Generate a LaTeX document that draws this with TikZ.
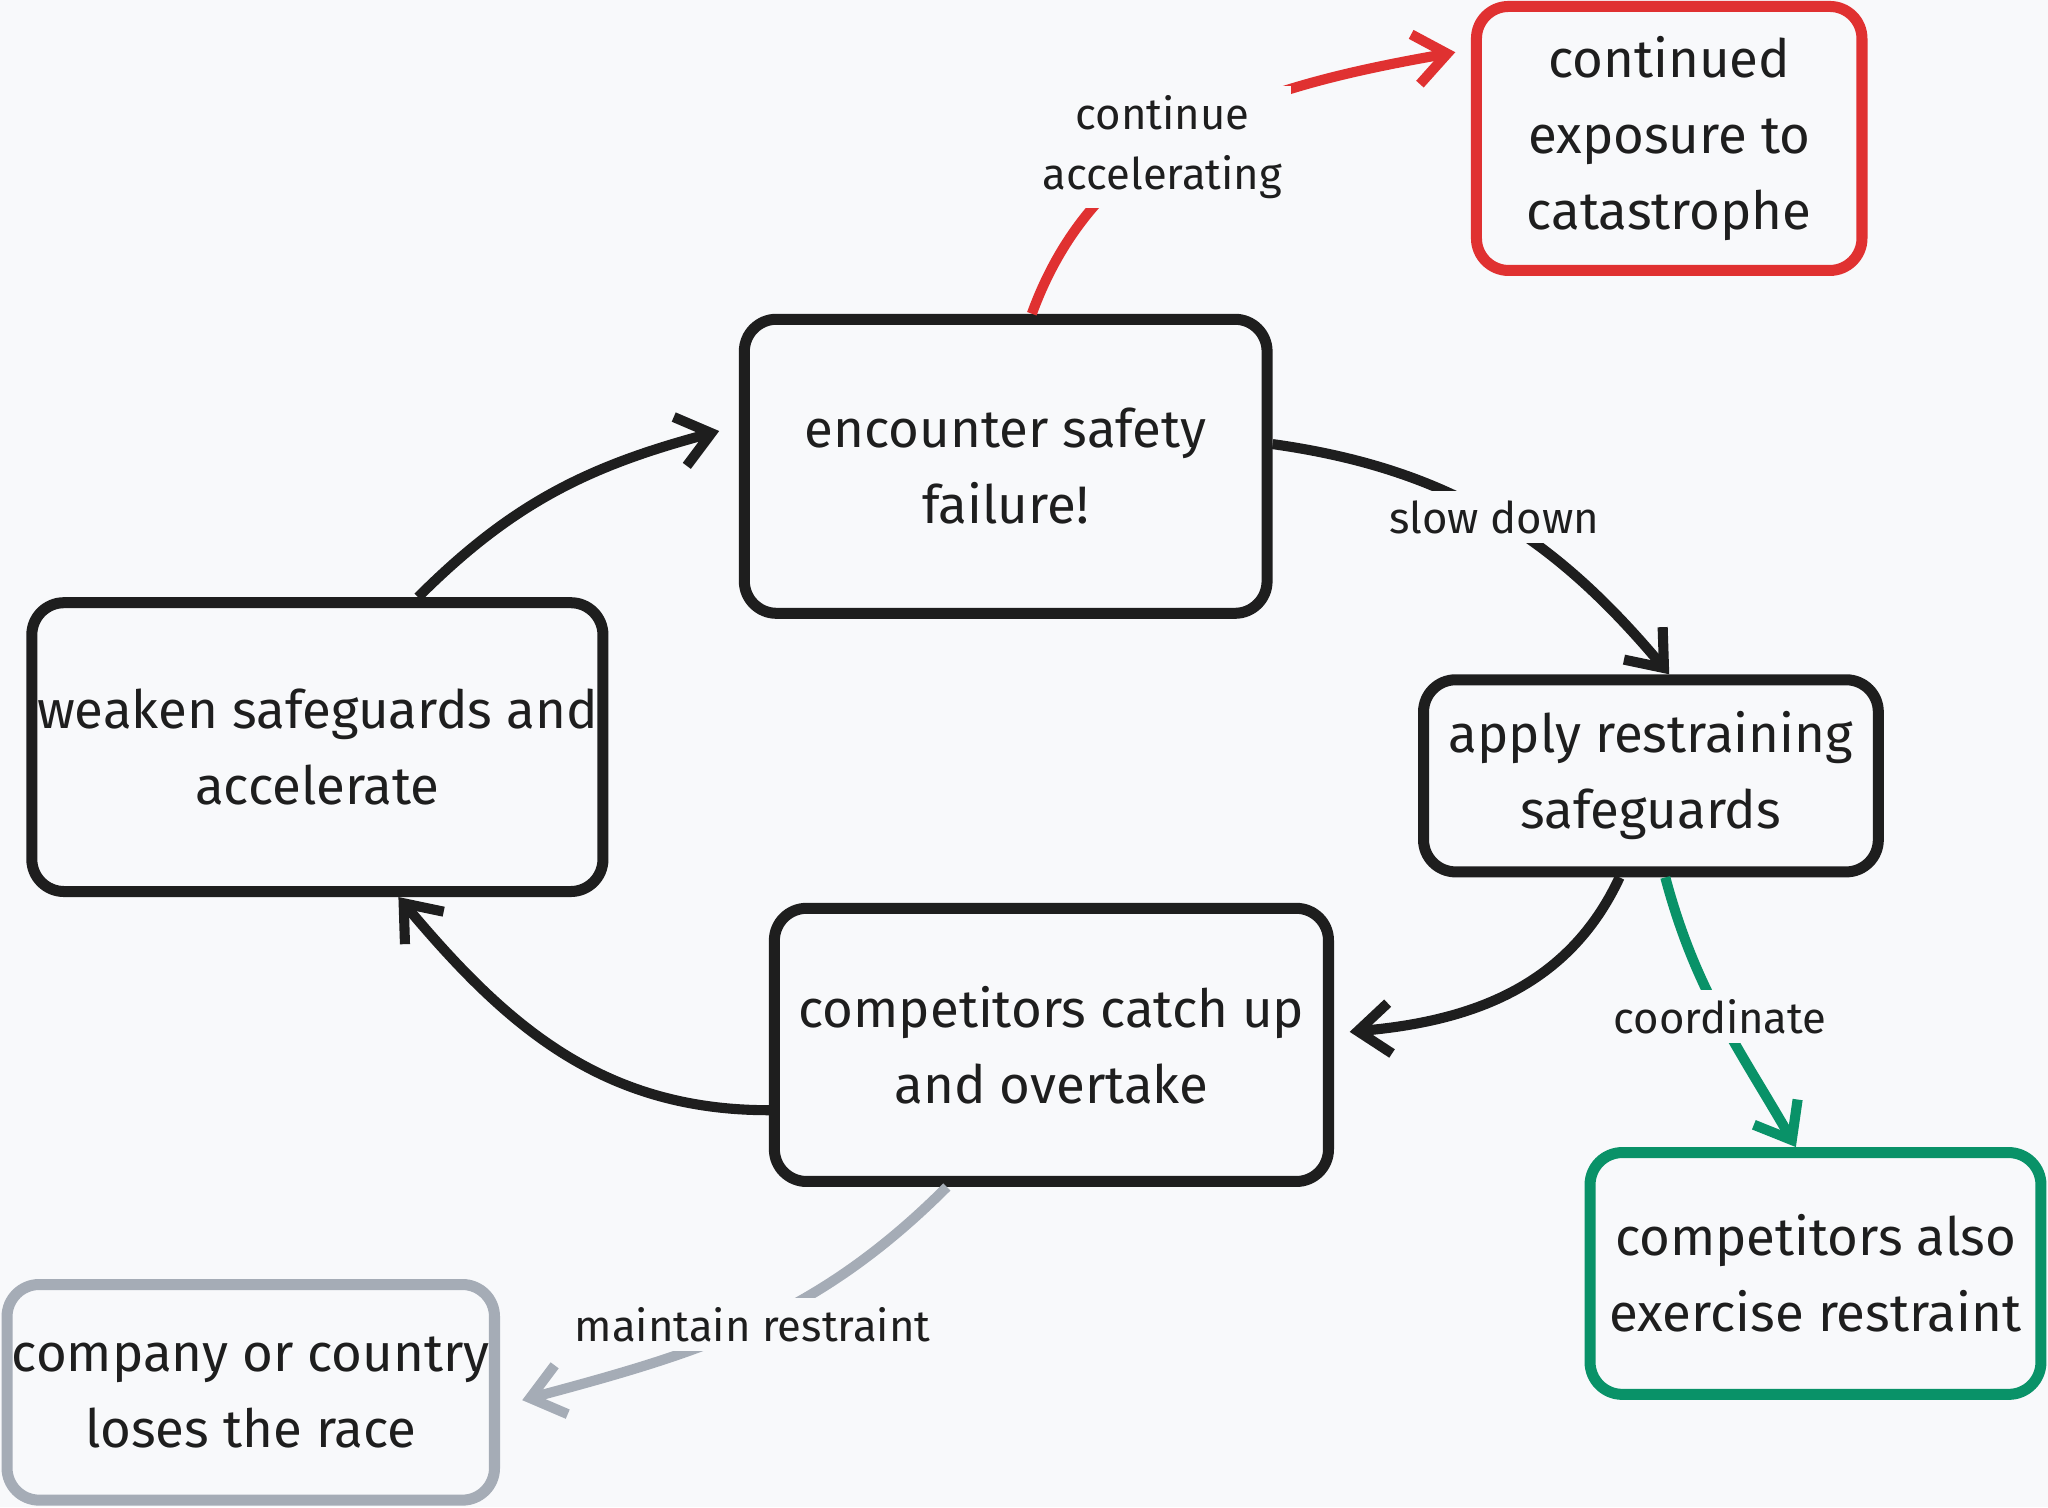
\documentclass[tikz,border=0pt]{standalone}
\usepackage{fontspec}
\setmainfont{Fira Sans}
\usepackage{tikz}
\usetikzlibrary{positioning}
\usetikzlibrary{arrows.meta}
\definecolor{bgcol}{HTML}{F8F9FB}
\definecolor{inkcol}{HTML}{1E1E1E}
\definecolor{redcol}{HTML}{E03131}
\definecolor{greencol}{HTML}{099268}
\definecolor{graycol}{HTML}{A5ACB6}
\tikzset{
  box/.style={draw=inkcol, line width=2.4pt, rounded corners=7pt, align=center,
    font=\fontsize{11.5}{16.5}\selectfont, text=inkcol, inner sep=0pt},
  link/.style={line width=2.2pt, draw=inkcol, -{Straight Barb[length=7pt,width=11pt,line width=2.2pt]}},
  tag/.style={fill=bgcol, font=\fontsize{9.5}{13}\selectfont, text=inkcol, align=center, inner sep=2pt}
}
\begin{document}
\begin{tikzpicture}[x=0.01cm, y=-0.01cm]
 % canvas
 \fill[bgcol] (0,0) rectangle (1568,1154);
 \useasboundingbox (0,0) rectangle (1568,1154);

 % boxes
 \node[box, minimum width=4cm, minimum height=2.25cm] (encounter) at (770,357) {encounter safety\\failure!};
 \node[box, draw=redcol, minimum width=2.95cm, minimum height=2.02cm] (exposure) at (1278,106) {continued\\exposure to\\catastrophe};
 \node[box, minimum width=3.48cm, minimum height=1.47cm] (apply) at (1264,594) {apply restraining\\safeguards};
 \node[box, draw=greencol, minimum width=3.45cm, minimum height=1.85cm] (also) at (1390,975) {competitors also\\exercise restraint};
 \node[box, minimum width=4.24cm, minimum height=2.09cm] (catchup) at (805,800) {competitors catch up\\and overtake};
 \node[box, minimum width=4.37cm, minimum height=2.21cm] (weaken) at (243,572) {weaken safeguards and\\accelerate};
 \node[box, draw=graycol, minimum width=3.73cm, minimum height=1.65cm] (loses) at (192,1066) {company or country\\loses the race};

 % connectors
 \draw[link, draw=redcol] ([xshift=0.2cm]encounter.north) to[out=70, in=190] node[pos=0.42, tag] {continue\\accelerating} ([xshift=-0.12cm]exposure.west |- 0,40);
 \draw[link] (encounter.east |- 0,340) to[out=-8, in=130] node[pos=0.5, tag] {slow down} ([xshift=0.14cm]apply.north);
 \draw[link] ([xshift=-0.24cm]apply.south) to[out=-115, in=5] ([xshift=0.12cm]catchup.east |- 0,790);
 \draw[link, draw=greencol] ([xshift=0.11cm]apply.south) to[out=-75, in=120] node[pos=0.5, tag] {coordinate} ([xshift=-0.15cm]also.north);
 \draw[link] (catchup.west |- 0,850) to[out=180, in=-50] ([xshift=0.62cm]weaken.south);
 \draw[link] ([xshift=0.77cm]weaken.north) to[out=45, in=195] ([xshift=-0.15cm]encounter.west |- 0,330);
 \draw[link, draw=graycol] ([xshift=-0.8cm]catchup.south) to[out=-135, in=15] node[pos=0.5, tag] {maintain restraint} ([xshift=0.17cm]loses.east |- 0,1072);
\end{tikzpicture}
\end{document}
